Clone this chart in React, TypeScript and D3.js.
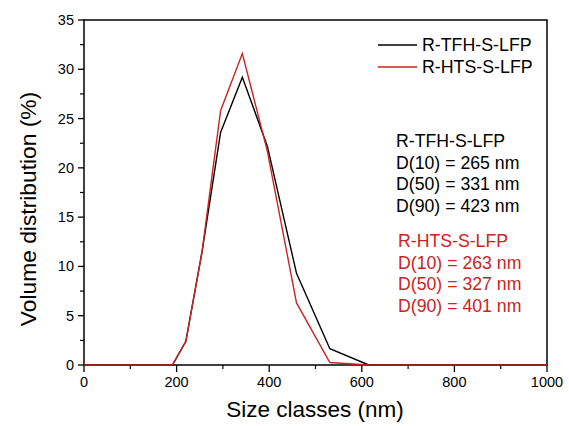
import React from "react";
import * as d3 from "d3";

const sizeClasses = [0, 191, 220, 255, 295, 342, 396, 459, 531, 615, 1000];
const tfhValues = [0, 0, 2.4, 11.5, 23.6, 29.2, 22.2, 9.3, 1.65, 0, 0];
const htsValues = [0, 0, 2.4, 11.5, 25.8, 31.6, 21.7, 6.3, 0.25, 0, 0];
const xTicks = [0, 200, 400, 600, 800, 1000];
const yTicks = [0, 5, 10, 15, 20, 25, 30, 35];
const seriesNames = ["R-TFH-S-LFP", "R-HTS-S-LFP"];
const tfhNotes = ["R-TFH-S-LFP", "D(10) = 265 nm", "D(50) = 331 nm", "D(90) = 423 nm"];
const htsNotes = ["R-HTS-S-LFP", "D(10) = 263 nm", "D(50) = 327 nm", "D(90) = 401 nm"];

const W = 569, H = 426;
const L = 84, R = 547, T = 20, B = 365;
const RED = "#cc2222";
const FONT = "'Liberation Sans', Arial, sans-serif";

export default function App() {
  const x = d3.scaleLinear().domain([0, 1000]).range([L, R]);
  const y = d3.scaleLinear().domain([0, 35]).range([B, T]);
  const line = d3.line<number>().x((_, i) => x(sizeClasses[i])).y((d) => y(d));
  const xMinor = d3.range(100, 1000, 200);
  const yMinor = d3.range(2.5, 35, 5);

  return (
    <svg width={W} height={H} style={{ position: "absolute", left: 0, top: 0, background: "#fff" }} fontFamily={FONT}>
      <rect x={0} y={0} width={W} height={H} fill="#fff" />
      {/* frame */}
      <rect x={L} y={T} width={R - L} height={B - T} fill="none" stroke="#000" strokeWidth={1.5} />
      {/* x ticks */}
      {xTicks.map((t) => (
        <g key={"xt" + t}>
          <line x1={x(t)} x2={x(t)} y1={B} y2={B + 7} stroke="#000" strokeWidth={1.3} />
          <text x={x(t)} y={B + 22} fontSize={14.5} textAnchor="middle" fill="#000">{t}</text>
        </g>
      ))}
      {xMinor.map((t) => (
        <line key={"xm" + t} x1={x(t)} x2={x(t)} y1={B} y2={B + 4} stroke="#000" strokeWidth={1.2} />
      ))}
      {/* y ticks */}
      {yTicks.map((t) => (
        <g key={"yt" + t}>
          <line x1={L - 6} x2={L} y1={y(t)} y2={y(t)} stroke="#000" strokeWidth={1.3} />
          <text x={L - 10} y={y(t) + 5} fontSize={14.5} textAnchor="end" fill="#000">{t}</text>
        </g>
      ))}
      {yMinor.map((t) => (
        <line key={"ym" + t} x1={L - 4} x2={L} y1={y(t)} y2={y(t)} stroke="#000" strokeWidth={1.2} />
      ))}
      {/* axis titles */}
      <text x={315} y={417} fontSize={22.5} textAnchor="middle" fill="#000">Size classes (nm)</text>
      <text transform={`translate(36,209) rotate(-90)`} fontSize={22.8} textAnchor="middle" fill="#000">
        Volume distribution (%)
      </text>
      {/* series */}
      <path d={line(tfhValues) || ""} fill="none" stroke="#000" strokeWidth={1.4} />
      <path d={line(htsValues) || ""} fill="none" stroke={RED} strokeWidth={1.4} />
      {/* legend */}
      <line x1={378} x2={417} y1={45} y2={45} stroke="#000" strokeWidth={1.4} />
      <text x={422} y={51} fontSize={17.8} fill="#000">{seriesNames[0]}</text>
      <line x1={378} x2={417} y1={67} y2={67} stroke={RED} strokeWidth={1.4} />
      <text x={422} y={73} fontSize={17.8} fill="#000">{seriesNames[1]}</text>
      {/* annotations */}
      {tfhNotes.map((s, i) => (
        <text key={"n1" + i} x={396} y={147 + i * 21.7} fontSize={17.7} fill="#000">{s}</text>
      ))}
      {htsNotes.map((s, i) => (
        <text key={"n2" + i} x={398} y={247 + i * 21.7} fontSize={17.7} fill={RED}>{s}</text>
      ))}
    </svg>
  );
}
